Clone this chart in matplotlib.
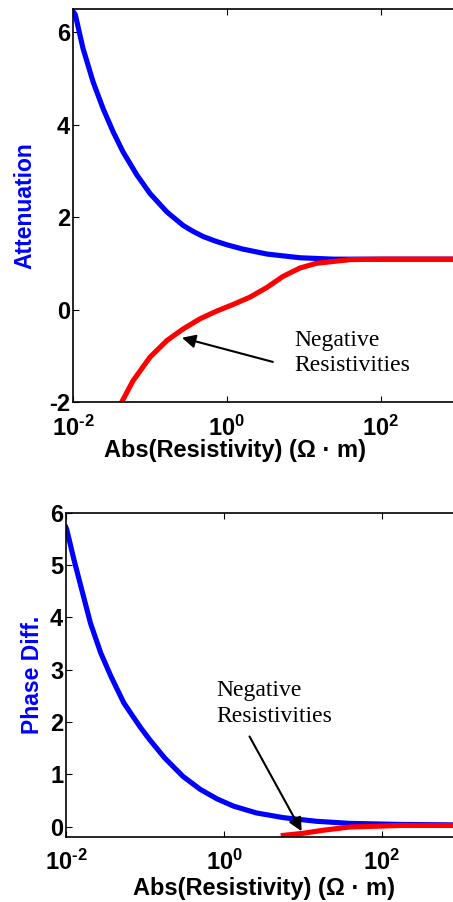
import matplotlib

matplotlib.use("Agg")

import matplotlib.pyplot as plt
import numpy as np

plt.rcParams["font.family"] = ["Liberation Sans", "DejaVu Sans"]
plt.rcParams["font.weight"] = "bold"
plt.rcParams["axes.unicode_minus"] = False
plt.rcParams["mathtext.fontset"] = "custom"
plt.rcParams["mathtext.bf"] = "Liberation Sans:bold"
plt.rcParams["mathtext.rm"] = "Liberation Sans:bold"
plt.rcParams["mathtext.default"] = "bf"

# values (x given as log10 of |resistivity|)
att_pos_logx = [-2.0, -1.97, -1.87, -1.74, -1.61, -1.48, -1.35, -1.17, -1.0, -0.78, -0.57,
                -0.44, -0.31, -0.15, 0.0, 0.2, 0.52, 0.95, 1.38, 2.0, 3.0]
att_pos = [6.45, 6.38, 5.65, 4.93, 4.35, 3.85, 3.41, 2.91, 2.51, 2.11, 1.82,
           1.69, 1.58, 1.48, 1.40, 1.31, 1.20, 1.12, 1.09, 1.09, 1.09]
att_neg_logx = [-1.40, -1.37, -1.22, -1.0, -0.78, -0.57, -0.35, -0.13, 0.08, 0.30, 0.52,
                0.73, 0.95, 1.16, 1.60, 2.0, 3.0]
att_neg = [-2.08, -2.01, -1.54, -1.03, -0.67, -0.42, -0.20, -0.03, 0.11, 0.27, 0.48,
           0.72, 0.90, 1.00, 1.08, 1.09, 1.09]

ph_pos_logx = [-2.0, -1.99, -1.90, -1.79, -1.69, -1.56, -1.43, -1.27, -1.15, -1.05, -0.94,
               -0.75, -0.52, -0.30, -0.09, 0.12, 0.41, 0.75, 1.17, 1.59, 2.23, 3.0]
ph_pos = [5.72, 5.68, 5.11, 4.47, 3.89, 3.32, 2.87, 2.37, 2.10, 1.88, 1.66,
          1.31, 0.96, 0.71, 0.53, 0.39, 0.26, 0.17, 0.10, 0.06, 0.04, 0.03]
ph_neg_logx = [0.75, 1.0, 1.26, 1.59, 2.02, 2.23, 3.0]
ph_neg = [-0.17, -0.13, -0.07, -0.01, 0.01, 0.02, 0.02]

xticks = [1e-2, 1e0, 1e2]
xtick_labels = [r"$10^{\text{-}2}$", r"$10^{0}$", r"$10^{2}$"]
att_yticks = [-2, 0, 2, 4, 6]
ph_yticks = [0, 1, 2, 3, 4, 5, 6]

BLUE = "#0000FF"
RED = "#FF0000"
XLABEL = "Abs(Resistivity) (\u03a9 \u00b7 m)"
SERIF = ["Liberation Serif", "DejaVu Serif"]


def style_axes(ax, yticks):
    ax.set_xscale("log")
    ax.set_xlim(1e-2, 1e3)
    ax.set_xticks(xticks)
    ax.set_xticklabels(xtick_labels)
    ax.xaxis.set_minor_locator(matplotlib.ticker.NullLocator())
    ax.set_yticks(yticks)
    ax.tick_params(direction="in", length=4, width=0.8, labelsize=17,
                   top=True, right=False)
    ax.tick_params(axis="x", pad=9.5)
    ax.tick_params(axis="y", pad=2)
    for sp in ax.spines.values():
        sp.set_linewidth(1.2)
    ax.set_xlabel(XLABEL, fontsize=17, fontweight="bold")


fig = plt.figure(figsize=(4.53, 9.02), dpi=100)

ax1 = fig.add_axes([0.1611, 0.5543, 0.850, 0.4357])
ax1.plot(10 ** np.array(att_pos_logx), att_pos, color=BLUE, lw=3.7)
ax1.plot(10 ** np.array(att_neg_logx), att_neg, color=RED, lw=3.7)
ax1.set_ylim(-2, 6.5)
style_axes(ax1, att_yticks)
ax1.set_ylabel("Attenuation", color=BLUE, fontsize=16.5, fontweight="bold")
ax1.yaxis.set_label_coords(-0.094, 0.5)
ax1.xaxis.set_label_coords(0.42, -0.094)
ax1.annotate("Negative\nResistivities", xy=(0.26, -0.61), xytext=(7.6, -0.94),
             ha="left", va="center", fontsize=17, fontweight="normal",
             family=SERIF, linespacing=1.3,
             arrowprops=dict(arrowstyle="-|>", color="black", lw=1.5,
                             mutation_scale=20, shrinkA=0, shrinkB=0,
                             relpos=(-0.19, 0.31)))

ax2 = fig.add_axes([0.1457, 0.0721, 0.872, 0.3592])
ax2.plot(10 ** np.array(ph_pos_logx), ph_pos, color=BLUE, lw=3.7)
ax2.plot(10 ** np.array(ph_neg_logx), ph_neg, color=RED, lw=3.7)
ax2.set_ylim(-0.2, 6)
style_axes(ax2, ph_yticks)
ax2.set_ylabel("Phase Diff.", color=BLUE, fontsize=16.5, fontweight="bold")
ax2.yaxis.set_label_coords(-0.056, 0.5)
ax2.xaxis.set_label_coords(0.5, -0.124)
ax2.annotate("Negative\nResistivities", xy=(9.6, -0.09), xytext=(0.79, 2.35),
             ha="left", va="center", fontsize=17, fontweight="normal",
             family=SERIF, linespacing=1.3,
             arrowprops=dict(arrowstyle="-|>", color="black", lw=1.5,
                             mutation_scale=20, shrinkA=0, shrinkB=0,
                             relpos=(0.29, -0.2)))

fig.savefig("out.png", dpi=100)
